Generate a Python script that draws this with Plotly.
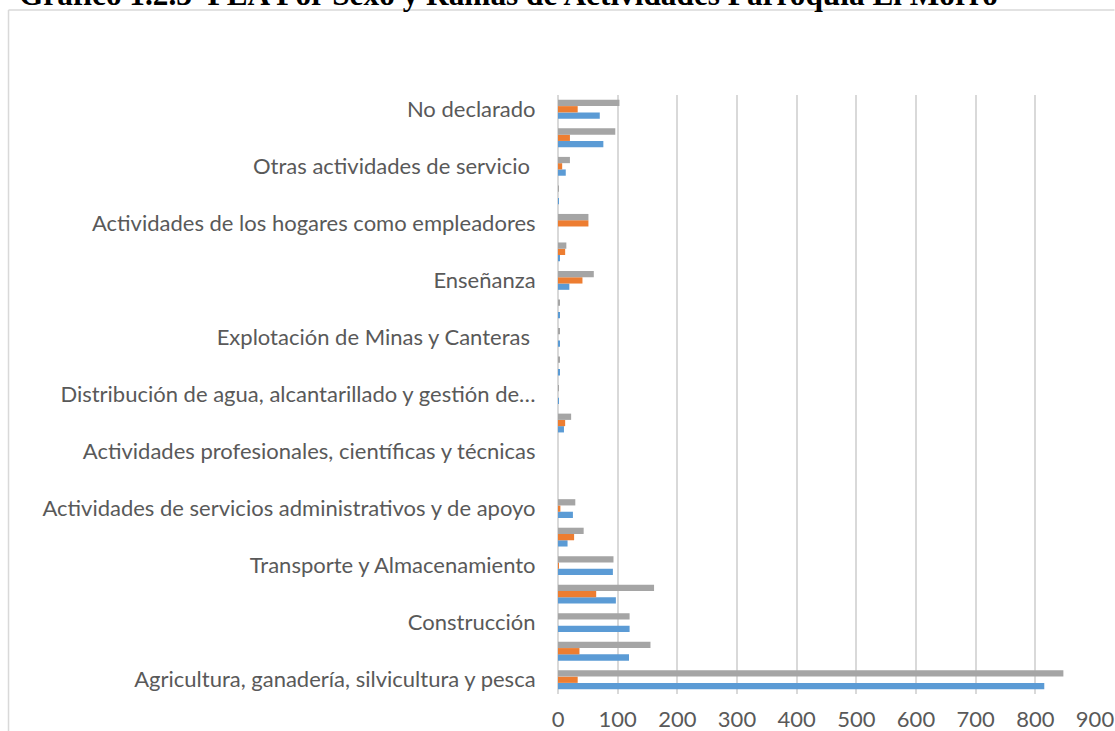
import plotly.graph_objects as go

# Categories, bottom to top
categories = [
    "Agricultura, ganadería, silvicultura y pesca",
    "Industrias manufactureras",
    "Construcción",
    "Comercio al por mayor y menor",
    "Transporte y Almacenamiento",
    "Actividades de alojamiento y servicio de comidas",
    "Actividades de servicios administrativos y de apoyo",
    "Actividades financieras y de seguros",
    "Actividades profesionales, científicas y técnicas",
    "Administración pública y defensa",
    "Distribución de agua, alcantarillado y gestión de deshechos",
    "Suministro de electricidad, gas, vapor y aire acondicionado",
    "Explotación de Minas y Canteras",
    "Información y comunicación",
    "Enseñanza",
    "Actividades de la atención de la salud humana",
    "Actividades de los hogares como empleadores",
    "Artes, entretenimiento y recreación",
    "Otras actividades de servicio",
    "Trabajador nuevo",
    "No declarado",
]

hombre = [815, 119, 120, 97, 92, 16, 25, 0, 0, 10, 1, 2, 3, 2, 19, 2, 0, 1, 13, 76, 70]
mujer = [33, 36, 0, 64, 1, 27, 4, 0, 0, 12, 0, 0, 0, 0, 41, 12, 51, 0, 7, 20, 33]
total = [847, 155, 120, 161, 93, 43, 29, 0, 0, 22, 1, 2, 3, 2, 60, 14, 51, 1, 20, 96, 103]

# Only every other category is labelled (as in the reference)
label_vals = categories[::2]
label_text = [
    "Agricultura, ganadería, silvicultura y pesca",
    "Construcción",
    "Transporte y Almacenamiento",
    "Actividades de servicios administrativos y de apoyo",
    "Actividades profesionales, científicas y técnicas",
    "Distribución de agua, alcantarillado y gestión de…",
    "Explotación de Minas y Canteras\u00a0",
    "Enseñanza",
    "Actividades de los hogares como empleadores",
    "Otras actividades de servicio\u00a0",
    "No declarado",
]

x_ticks = [0, 100, 200, 300, 400, 500, 600, 700, 800, 900]
title_text = "Gráfico 1.2.3  PEA Por Sexo y Ramas de Actividades Parroquia El Morro"

series = [("Hombre", hombre, "#5B9BD5"), ("Mujer", mujer, "#ED7D31"), ("Total", total, "#A5A5A5")]

fig = go.Figure()
for name, vals, col in series:
    fig.add_trace(go.Bar(y=categories, x=vals, name=name, orientation="h",
                         marker=dict(color=col, line=dict(width=0))))

W, H = 1115, 731
L, T = 558, 95
R = W - 1095.5
B = H - 694
pw, ph = W - L - R, H - T - B

def px_x(p):  # page pixel -> paper x
    return (p - L) / pw

def px_y(p):  # page pixel -> paper y
    return 1 - (p - T) / ph

border = dict(color="#d9d9d9", width=1.5)
fig.update_layout(
    width=W, height=H,
    margin=dict(l=L, r=R, t=T, b=B, pad=0, autoexpand=False),
    barmode="group", bargap=0.34, bargroupgap=0,
    plot_bgcolor="white", paper_bgcolor="white",
    showlegend=False,
    font=dict(family="Lato", color="#595959", size=22),
    xaxis=dict(range=[0, 900], tickvals=x_ticks, showgrid=True, gridcolor="#d9d9d9",
               gridwidth=1.5, zeroline=True, zerolinecolor="#d9d9d9", zerolinewidth=1.5,
               showline=False, ticks="outside", ticklen=6, tickcolor="rgba(0,0,0,0)",
               automargin=False,
               tickfont=dict(size=22, color="#595959", family="Lato"), fixedrange=True),
    yaxis=dict(type="category", categoryorder="array", categoryarray=categories,
               tickmode="array", tickvals=label_vals, ticktext=label_text,
               showgrid=False, zeroline=False, showline=False,
               ticks="outside", ticklen=17, tickcolor="rgba(0,0,0,0)",
               automargin=False,
               tickfont=dict(size=22, color="#595959", family="Lato"), fixedrange=True),
    shapes=[
        dict(type="line", xref="paper", yref="paper", x0=px_x(8), x1=px_x(W), y0=px_y(10), y1=px_y(10),
             line=border, layer="below"),
        dict(type="line", xref="paper", yref="paper", x0=px_x(8), x1=px_x(8), y0=px_y(10), y1=px_y(H),
             line=border, layer="below"),
    ],
    annotations=[dict(text="<b>" + title_text + "</b>", xref="paper", yref="paper",
                      x=px_x(16), y=px_y(-6), xanchor="left", yanchor="middle",
                      showarrow=False,
                      font=dict(family="Liberation Serif", size=31.3, color="black"))],
)

# remove the default page margin synchronously (runs right after newPlot is called)
sync_js = ("}); document.documentElement.style.margin='0'; document.body.style.margin='0'; "
           "document.body.style.padding='0'; document.documentElement.style.overflow='hidden'; "
           "document.body.style.overflow='hidden'; (function(){")

fig.write_html("out.html", config={"displayModeBar": False}, post_script=sync_js)
